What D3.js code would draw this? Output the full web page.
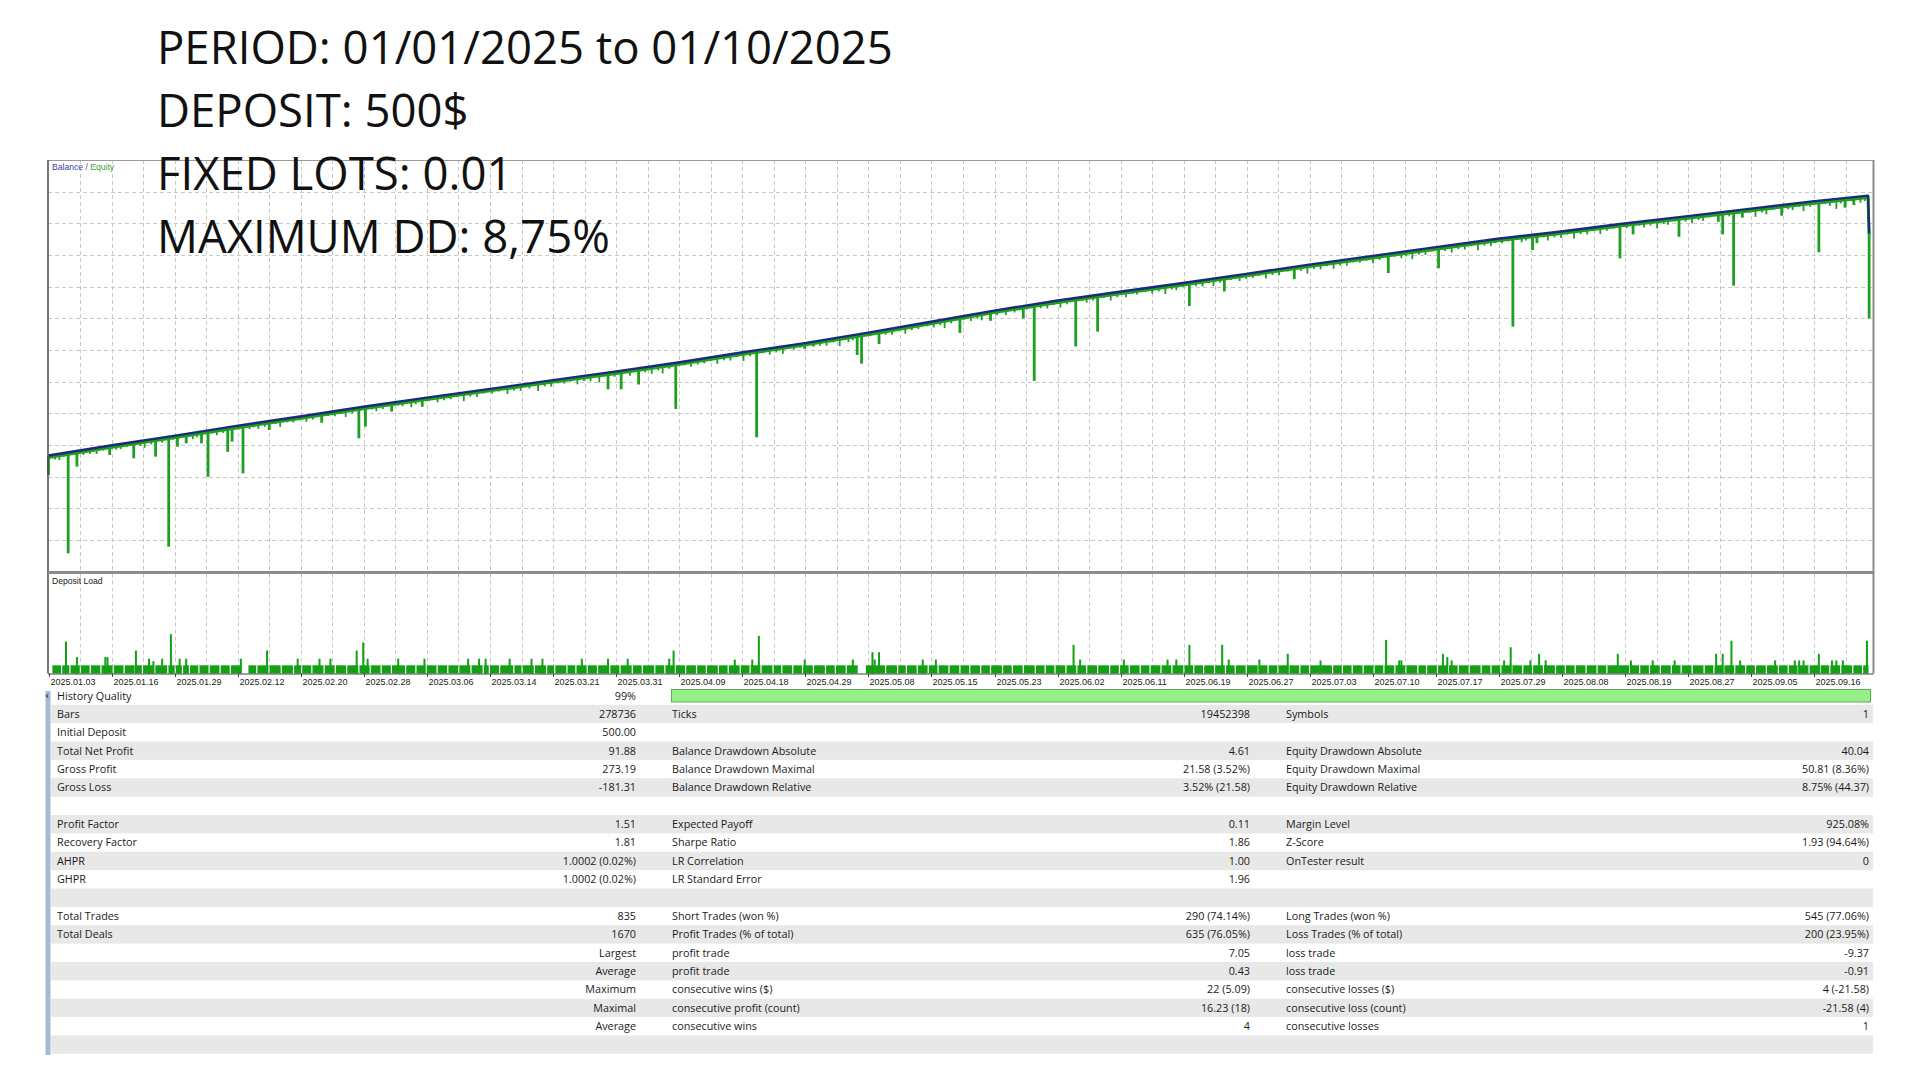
<!DOCTYPE html>
<html><head><meta charset="utf-8">
<script src="https://cdn.jsdelivr.net/npm/d3@7"></script>
<style>html,body{margin:0;padding:0;background:#fff;}svg{display:block;}</style>
</head><body>
<svg id="c" width="1920" height="1080"></svg>
<script>
// ---------------- DATA ----------------
const titleLines = ["PERIOD: 01/01/2025 to 01/10/2025", "DEPOSIT: 500$", "FIXED LOTS: 0.01", "MAXIMUM DD: 8,75%"];
const tradeCount = 835;

// balance curve (trade index -> balance $)
const balanceIdx = [0,29,58,86,115,144,173,202,230,259,288,317,346,375,403,432,461,490,519,548,576,605,634,663,692,720,749,778,807,832.5,833];
const balanceVal = [500.0,504.2,508.2,512.2,516.1,520.1,523.9,527.5,531.0,534.6,538.4,542.5,546.4,550.7,555.1,559.7,563.9,567.6,571.2,575.0,578.7,582.3,585.9,589.5,592.5,595.7,598.7,601.8,604.9,607.3,591.88];

// equity lows (trade index, equity $)
const equityDips = [[0,491.9],[9,459.6],[13,495.4],[28,500.2],[39,498.8],[49,499.5],[55,462.3],[59,503.6],[63,505.0],[70,505.0],[73,491.2],[82,501.5],[84,505.7],[89,492.6],[101,510.5],[125,513.5],[142,507.1],[145,511.9],[157,518.1],[171,520.1],[256,527.3],[262,527.3],[270,529.3],[287,519.2],[324,507.5],[346,544.0],[350,545.0],[370,541.5],[372,537.9],[380,546.0],[417,550.6],[431,555.6],[446,556.6],[451,530.8],[470,545.0],[480,551.1],[522,561.7],[538,567.7],[570,572.8],[613,575.3],[636,577.3],[670,553.2],[679,584.8],[681,587.7],[719,581.4],[725,591.3],[746,590.3],[764,596.5],[766,591.3],[771,570.1],[775,598.2],[793,599.0],[810,583.9],[822,602.3],[826,603.4],[833,556.6]];
// small floating losses (trade index, depth $)
const smallDips = [[3,1.5],[5,2],[7,1],[16,1.5],[19,1.5],[22,2],[25,1],[31,1.5],[33,1.5],[36,1],[42,1.5],[44,2.5],[47,1.5],[52,1.5],[57,1],[66,2],[68,1.5],[75,1],[77,2],[80,1.5],[87,1],[92,1.5],[94,1],[96,2],[99,1.5],[104,1],[106,2.5],[109,1],[112,1.5],[115,1],[118,2],[121,1.5],[128,1],[131,1.5],[134,1],[136,2.5],[139,1.5],[148,1],[150,2],[153,1.5],[160,1],[162,1.5],[166,2.5],[168,1.5],[174,1],[178,2],[181,1.5],[184,1.5],[187,1],[190,3],[193,1.5],[196,2],[199,1],[203,1.5],[206,1],[210,2.5],[213,1.5],[216,2],[220,1.5],[224,3],[227,1.5],[230,2],[233,1],[236,1.5],[239,1],[242,2.5],[245,1.5],[248,2],[252,3],[259,1.5],[266,2],[273,1.5],[276,2.5],[279,1.5],[281,3],[284,1.5],[291,1],[294,2],[297,1.5],[300,1.5],[303,1],[306,2.5],[309,1.5],[312,2],[315,1],[318,3],[321,1.5],[327,1],[330,2],[333,1.5],[336,2.5],[341,1.5],[344,1],[353,1.5],[356,2],[359,1],[362,3],[366,2],[368,1.5],[376,1],[383,1.5],[386,2],[389,1],[392,2.5],[395,1.5],[398,1.5],[402,1],[405,2],[408,1.5],[410,3],[413,1.5],[419,1],[422,2],[425,1.5],[427,2.5],[434,1.5],[438,2],[442,1.5],[448,1],[454,1.5],[457,2],[460,1],[463,2.5],[466,1.5],[473,1],[475,2],[478,1.5],[483,1],[486,2.5],[489,1.5],[493,2],[496,1],[498,1.5],[502,1],[505,2],[508,1.5],[511,3],[514,1.5],[516,2],[519,1],[525,1.5],[528,2],[531,1],[533,2.5],[536,1.5],[541,1],[545,2],[548,1.5],[551,1.5],[554,1],[557,2.5],[560,1.5],[563,2],[567,1],[573,1.5],[576,3],[579,1.5],[582,2],[585,1],[588,2.5],[591,1.5],[594,2],[597,1],[600,1.5],[603,1],[606,2.5],[609,1.5],[616,1],[619,2],[621,1.5],[624,3],[627,1.5],[630,2],[633,1],[639,1.5],[642,2.5],[645,1.5],[648,2],[651,1],[654,3],[657,1.5],[660,2],[662,1],[665,1.5],[668,1],[674,2],[676,1.5],[684,1],[686,2.5],[689,1.5],[692,2],[695,1],[698,3],[701,1.5],[704,2],[707,1],[710,2.5],[713,1.5],[716,1],[722,1.5],[728,1],[730,2],[733,1.5],[736,3],[739,1.5],[741,2],[744,1],[749,1.5],[752,2.5],[755,1.5],[757,2],[760,1],[769,1.5],[778,1],[781,3],[784,1.5],[786,2.5],[789,1],[796,1.5],[798,2],[801,1],[803,3],[806,1.5],[813,1],[815,2],[818,3.5],[820,1.5],[825,1],[829,2],[831,1.5]];

// x-axis date labels and the trade index at which each sits
const dateLabels = ["2025.01.03","2025.01.16","2025.01.29","2025.02.12","2025.02.20","2025.02.28","2025.03.06","2025.03.14","2025.03.21","2025.03.31","2025.04.09","2025.04.18","2025.04.29","2025.05.08","2025.05.15","2025.05.23","2025.06.02","2025.06.11","2025.06.19","2025.06.27","2025.07.03","2025.07.10","2025.07.17","2025.07.29","2025.08.08","2025.08.19","2025.08.27","2025.09.05","2025.09.16"];
const dateTrades = [0,28.9,57.7,86.6,115.4,144.3,173.1,202,230.9,259.7,288.6,317.4,346.3,375.1,404,432.9,461.7,490.6,519.4,548.3,577.1,606,634.9,663.7,692.6,721.4,750.3,779.1,808];

// deposit load
const loadBase = 1.0;
const loadBreaks = [1.5,6.0,9.8,14.6,19.1,24,29.6,34.6,39.7,43,48.6,54.6,58,61.3,64.5,68.8,73.5,78.5,83.2,88.4,91.2,95.3,100.9,106.5,112.1,115.8,120.5,126.1,131.2,136.4,142,147.2,152.2,156.9,163.4,168.1,172.8,177.8,182.7,187.7,193.3,198.9,201.7,206.4,212.9,216.7,222.3,227.9,231.6,237.2,241.3,246.5,251.2,256.8,261.5,267.1,271.7,277.4,282,286.7,291.5,296.5,301,306.5,311,316.5,321,326,331.5,335.5,340.5,345,350,355.5,360,365,370.5,373.7,378,383,388.5,392.5,397.5,402.5,407,412,417,421.5,426.5,431,436.5,441,446,451.5,456,460.5,465.5,470.5,475,480,485.5,490,494.5,499.5,504,509,514,519.5,524,528.5,533.5,538.5,543,548,553.5,558,562.5,567.5,572.5,577,582,587.5,592,596.5,601.5,606.5,611,616,621,626.5,630.5,635.5,640.5,645,650,655.5,660,664.5,669.5,674.5,679,684,689.5,694,698.5,703.5,708.5,713,718,723.5,728,732.5,737.5,742.5,747,752,757.5,762,766.5,771.5,776.5,781,786,791.5,796,800.5,805.5,810.5,815,820,825.5,830,833];
const loadEmpty = [[88.4,91.2],[370.5,373.7]];
const loadSpikes = [[8,3.9],[13,2.0],[26,2.0],[27,2.0],[40,2.8],[46,1.8],[48,1.5],[52,1.8],[56,4.8],[60,1.8],[63,1.8],[88,1.8],[100,2.8],[114,1.8],[124,1.8],[129,1.8],[141,2.8],[144,3.8],[146,1.8],[160,1.8],[172,1.8],[192,1.8],[197,1.8],[200,1.8],[211,1.8],[221,1.8],[226,1.8],[244,1.8],[256,1.8],[265,1.8],[284,1.8],[286,2.8],[314,1.7],[322,1.7],[325,4.6],[346,1.7],[368,1.7],[377,2.6],[378,1.7],[380,2.6],[400,1.7],[406,1.7],[469,3.5],[472,1.7],[492,1.7],[512,1.7],[516,1.7],[522,3.5],[537,3.5],[540,1.7],[554,1.7],[567,2.4],[582,1.6],[612,4.1],[618,1.6],[619,1.6],[638,2.4],[640,2.0],[642,1.6],[666,1.6],[669,3.2],[678,1.6],[682,2.4],[685,1.6],[718,2.4],[724,1.6],[734,1.6],[744,1.6],[763,2.4],[766,2.4],[770,4.0],[774,1.6],[790,1.6],[799,1.6],[801,1.6],[803,1.6],[810,2.4],[816,1.6],[818,1.6],[821,1.6],[832,4.0]];

// statistics table (20 rows)
const statLabels1 = ["History Quality","Bars","Initial Deposit","Total Net Profit","Gross Profit","Gross Loss","","Profit Factor","Recovery Factor","AHPR","GHPR","","Total Trades","Total Deals","","","","","",""];
const statValues1 = ["99%","278736","500.00","91.88","273.19","-181.31","","1.51","1.81","1.0002 (0.02%)","1.0002 (0.02%)","","835","1670","Largest","Average","Maximum","Maximal","Average",""];
const statLabels2 = ["","Ticks","","Balance Drawdown Absolute","Balance Drawdown Maximal","Balance Drawdown Relative","","Expected Payoff","Sharpe Ratio","LR Correlation","LR Standard Error","","Short Trades (won %)","Profit Trades (% of total)","profit trade","profit trade","consecutive wins ($)","consecutive profit (count)","consecutive wins",""];
const statValues2 = ["","19452398","","4.61","21.58 (3.52%)","3.52% (21.58)","","0.11","1.86","1.00","1.96","","290 (74.14%)","635 (76.05%)","7.05","0.43","22 (5.09)","16.23 (18)","4",""];
const statLabels3 = ["","Symbols","","Equity Drawdown Absolute","Equity Drawdown Maximal","Equity Drawdown Relative","","Margin Level","Z-Score","OnTester result","","","Long Trades (won %)","Loss Trades (% of total)","loss trade","loss trade","consecutive losses ($)","consecutive loss (count)","consecutive losses",""];
const statValues3 = ["","1","","40.04","50.81 (8.36%)","8.75% (44.37)","","925.08%","1.93 (94.64%)","0","","","545 (77.06%)","200 (23.95%)","-9.37","-0.91","4 (-21.58)","-21.58 (4)","1",""];
const historyQuality = 99;

// ---------------- DRAW ----------------
const svg = d3.select("#c");
const L = 48, R = 1873.5, T = 160, B = 571.7, DT = 573.5, DB = 673.5;
const x = d3.scaleLinear().domain([0, tradeCount]).range([48.5, 1873.5]);
const y = d3.scaleLinear().domain([452, 622]).range([B, T]);
const yLoad = d3.scaleLinear().domain([0, 12.2]).range([DB, DT]);
const bal = d3.scaleLinear().domain(balanceIdx).range(balanceVal);

const gridCol = "#c9c9c9";
const gx = [];
dateTrades.forEach((t, i) => {
  if (i > 0) gx.push(t);
  const nxt = i < dateTrades.length - 1 ? dateTrades[i + 1] : t + (t - dateTrades[i - 1]);
  gx.push((t + nxt) / 2);
});
const gGrid = svg.append("g").attr("stroke", gridCol).attr("stroke-width", 1).attr("stroke-dasharray", "4,3");
gx.filter(t => x(t) < R - 3).forEach(t => {
  const px = Math.round(x(t)) + 0.5;
  gGrid.append("line").attr("x1", px).attr("x2", px).attr("y1", T).attr("y2", B);
  gGrid.append("line").attr("x1", px).attr("x2", px).attr("y1", DT).attr("y2", DB);
});
d3.range(1, 13).map(k => 452 + k * 170 / 13).forEach(v => {
  const py = Math.round(y(v)) + 0.5;
  gGrid.append("line").attr("x1", L).attr("x2", R).attr("y1", py).attr("y2", py);
});

// equity (green) under balance
const balLine = d3.line().x(d => x(d[0])).y(d => y(d[1]));
const balPts = balanceIdx.map((t, i) => [t, balanceVal[i]]);
const eqCol = "#1f9f1f";
svg.append("path").attr("d", balLine(balPts)).attr("fill", "none").attr("stroke", eqCol)
  .attr("stroke-width", 3).attr("transform", "translate(0,2)");
const gDips = svg.append("g").attr("stroke", eqCol);
smallDips.forEach(d => {
  gDips.append("line").attr("x1", x(d[0])).attr("x2", x(d[0]))
    .attr("y1", y(bal(d[0]))).attr("y2", y(bal(d[0]) - d[1] - 0.6)).attr("stroke-width", 1.8);
});
equityDips.forEach(d => {
  gDips.append("line").attr("x1", x(d[0])).attr("x2", x(d[0]))
    .attr("y1", y(bal(d[0]))).attr("y2", y(d[1])).attr("stroke-width", 2.8);
});
// balance (blue)
svg.append("path").attr("d", balLine(balPts)).attr("fill", "none").attr("stroke", "#1b2a7a")
  .attr("stroke-width", 2.4).attr("stroke-linejoin", "round");

// legend
const leg = svg.append("text").attr("x", 52).attr("y", 170).attr("font-family", "Liberation Sans, Arial, sans-serif").attr("font-size", 8.6);
leg.append("tspan").attr("fill", "#3a3fb0").text("Balance");
leg.append("tspan").attr("fill", "#555").text(" / ");
leg.append("tspan").attr("fill", "#3aa53a").text("Equity");

// deposit load
const gLoad = svg.append("g").attr("fill", "#14a014");
for (let i = 0; i < loadBreaks.length - 1; i++) {
  const a = loadBreaks[i], b = loadBreaks[i + 1];
  if (loadEmpty.some(e => Math.abs(e[0] - a) < 0.01)) continue;
  gLoad.append("rect").attr("x", x(a) + 0.6).attr("width", Math.max(0.5, x(b) - x(a) - 1.2))
    .attr("y", yLoad(loadBase)).attr("height", yLoad(0) - yLoad(loadBase));
}
loadSpikes.forEach(d => {
  gLoad.append("rect").attr("x", x(d[0]) - 1).attr("width", 2)
    .attr("y", yLoad(d[1])).attr("height", yLoad(0) - yLoad(d[1]));
});
svg.append("text").attr("x", 52).attr("y", 584).attr("font-family", "Liberation Sans, Arial, sans-serif")
  .attr("font-size", 8.6).attr("fill", "#222").text("Deposit Load");

// frames
svg.append("line").attr("x1", L).attr("x2", R).attr("y1", T + 0.5).attr("y2", T + 0.5).attr("stroke", "#9a9a9a");
svg.append("line").attr("x1", L).attr("x2", L).attr("y1", T).attr("y2", DB).attr("stroke", "#4a4a4a").attr("stroke-width", 1.5);
svg.append("line").attr("x1", R).attr("x2", R).attr("y1", T).attr("y2", DB).attr("stroke", "#8a8a8a").attr("stroke-width", 2);
svg.append("line").attr("x1", L).attr("x2", R).attr("y1", 572.5).attr("y2", 572.5).attr("stroke", "#8a8a8a").attr("stroke-width", 3);
svg.append("line").attr("x1", L).attr("x2", R).attr("y1", DB + 0.5).attr("y2", DB + 0.5).attr("stroke", "#444").attr("stroke-width", 1.2);

// date axis
const gAx = svg.append("g").attr("font-family", "Liberation Sans, Arial, sans-serif").attr("font-size", 9).attr("fill", "#222");
dateLabels.forEach((lab, i) => {
  const px = Math.round(x(dateTrades[i])) + 0.5;
  svg.append("line").attr("x1", px).attr("x2", px).attr("y1", DB).attr("y2", DB + 3.5).attr("stroke", "#444");
  gAx.append("text").attr("x", px + 1).attr("y", 684.5).text(lab);
});

// table
const rowH = 18.37, row0 = 695.6;
const gT = svg.append("g");
statLabels1.forEach((_, i) => {
  const cy = row0 + i * rowH;
  if (i % 2 === 1) gT.append("rect").attr("x", 51).attr("y", cy - rowH / 2).attr("width", 1822).attr("height", rowH).attr("fill", "#e8e8e8");
});
gT.append("rect").attr("x", 45.5).attr("y", 691).attr("width", 5).attr("height", 364).attr("fill", "#a6b9d6");
gT.append("text").attr("x", 45).attr("y", 699).attr("font-family", "DejaVu Sans, sans-serif").attr("font-size", 10).attr("font-weight", "bold").attr("fill", "#333").text("‹");
gT.append("rect").attr("x", 671.5).attr("y", 689.5).attr("width", 1199).attr("height", 12.5)
  .attr("fill", "#95f089").attr("stroke", "#5caa52").attr("stroke-width", 1).datum(historyQuality);
const tf = "Open Sans, Noto Sans, sans-serif";
function col(arr, xp, anchor) {
  arr.forEach((s, i) => {
    if (!s) return;
    gT.append("text").attr("x", xp).attr("y", row0 + i * rowH + 3.9).attr("text-anchor", anchor)
      .attr("font-family", tf).attr("font-size", 10.8).attr("fill", "#1a1a1a").text(s);
  });
}
col(statLabels1, 57, "start");
col(statValues1, 636, "end");
col(statLabels2, 672, "start");
col(statValues2, 1250, "end");
col(statLabels3, 1286, "start");
col(statValues3, 1869, "end");

// title text overlay
titleLines.forEach((s, i) => {
  svg.append("text").attr("x", 157).attr("y", 64 + i * 63).attr("font-family", "Open Sans, Noto Sans, sans-serif")
    .attr("font-size", 45.5).attr("fill", "#111").text(s);
});
</script>
</body></html>
